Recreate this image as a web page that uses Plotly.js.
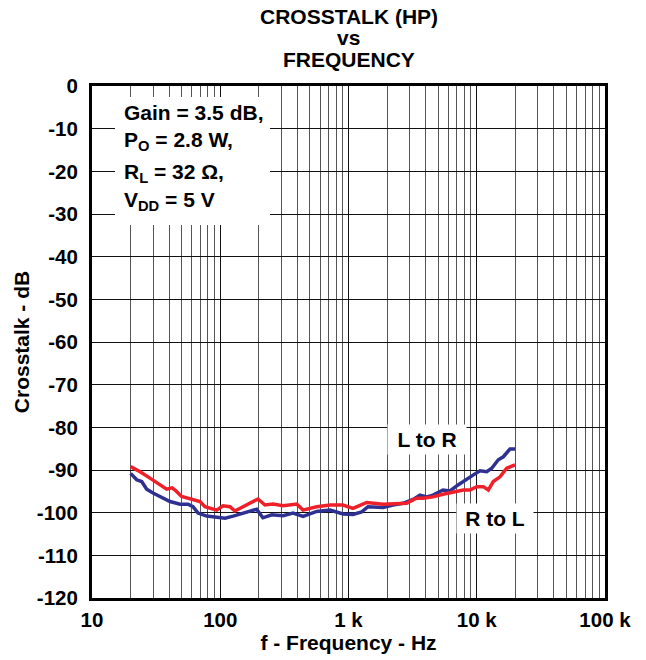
<!DOCTYPE html>
<html>
<head>
<meta charset="utf-8">
<script src="https://cdn.plot.ly/plotly-3.0.1.min.js"></script>
<style>html,body{margin:0;padding:0;background:#fff;}#chart{width:646px;height:660px;}</style>
</head>
<body>
<div id="chart"></div>
<script>
// Frequencies (Hz) and crosstalk (dB)
const freqRtoL = [20, 23.7, 28.3, 33.9, 38.2, 42.1, 44.4, 50, 59.9, 69.5, 76, 93.8, 105, 119, 130, 150, 171, 197, 223, 258, 309, 395, 442, 565, 718, 906, 1083, 1229, 1387, 1858, 2377, 2844, 3185, 3404, 3811, 4560, 5455, 6530, 7853, 8854, 9993, 11250, 12300, 13460, 15180, 17120, 19870];
const dbRtoL   = [-89.2, -90.4, -91.9, -93.5, -94.5, -94.2, -94.7, -96.2, -96.9, -97.4, -98.6, -99.4, -98.4, -98.6, -99.6, -98.6, -97.8, -96.8, -98.2, -98.0, -98.4, -98.0, -99.4, -98.6, -98.2, -98.2, -99.0, -98.2, -97.6, -98.0, -97.8, -97.8, -97.0, -96.6, -96.6, -96.3, -95.7, -95.3, -94.7, -94.7, -93.9, -93.9, -94.7, -92.7, -91.6, -89.6, -88.8];

const freqLtoR = [20, 22.3, 24.4, 26.7, 29.9, 35, 40.6, 48.6, 56.1, 61.3, 67.1, 78.4, 93.8, 109, 126, 150, 171, 192, 215, 252, 309, 369, 442, 565, 718, 906, 1083, 1268, 1419, 1858, 2223, 2660, 3185, 3610, 4074, 4560, 5455, 6182, 7145, 8351, 9354, 10600, 11960, 13090, 14730, 16110, 18160, 19870];
const dbLtoR   = [-90.8, -92.3, -92.7, -94.5, -95.4, -96.4, -97.4, -98.0, -98.0, -98.6, -100.1, -100.8, -101.1, -101.3, -100.8, -100.1, -99.6, -99.2, -101.2, -100.5, -100.7, -100.1, -100.9, -99.7, -99.4, -100.3, -100.4, -99.8, -98.6, -98.8, -98.2, -97.8, -96.9, -95.9, -96.3, -95.9, -94.7, -94.9, -93.5, -92.3, -91.2, -90.2, -90.4, -89.6, -87.6, -86.9, -85.1, -85.1];

const xTickVals = [10, 100, 1000, 10000, 100000];
const xTickText = ['10', '100', '1 k', '10 k', '100 k'];
const yTickVals = [0, -10, -20, -30, -40, -50, -60, -70, -80, -90, -100, -110, -120];
const yTickText = ['0', '-10', '-20', '-30', '-40', '-50', '-60', '-70', '-80', '-90', '-100', '-110', '-120'];

const titleLines = ['CROSSTALK (HP)', 'vs', 'FREQUENCY'];
const conditionLines = ['Gain = 3.5 dB,', 'P<sub>O</sub> = 2.8 W,', 'R<sub>L</sub> = 32 Ω,', 'V<sub>DD</sub> = 5 V'];

const FONT = 'Liberation Sans, Arial, sans-serif';

const traces = [
  {x: freqLtoR, y: dbLtoR, type: 'scatter', mode: 'lines', name: 'L to R',
   line: {color: '#2e3192', width: 3.5}},
  {x: freqRtoL, y: dbRtoL, type: 'scatter', mode: 'lines', name: 'R to L',
   line: {color: '#f0202a', width: 3.5}}
];

const bold = s => '<b>' + s + '</b>';

const titleY = [1.1348, 1.0938, 1.0527];
const condY = [0.9473, 0.8926, 0.8301, 0.7754];

const annotations = [];
titleLines.forEach((t, i) => annotations.push({
  xref: 'paper', yref: 'paper', x: 0.5, y: titleY[i], xanchor: 'center', yanchor: 'middle',
  text: bold(t), showarrow: false, font: {size: 21}
}));
conditionLines.forEach((t, i) => annotations.push({
  xref: 'paper', yref: 'paper', x: 0.058, y: condY[i], xanchor: 'left', yanchor: 'middle',
  text: bold(t), showarrow: false, font: {size: 21}
}));
annotations.push(
  {xref: 'paper', yref: 'paper', x: 0.653, y: 0.3086, xanchor: 'center', yanchor: 'middle',
   text: bold('L to R'), showarrow: false, bgcolor: '#fff', borderpad: 3, font: {size: 21}, width: 72},
  {xref: 'paper', yref: 'paper', x: 0.7856, y: 0.156, xanchor: 'center', yanchor: 'middle',
   text: bold('R to L'), showarrow: false, bgcolor: '#fff', borderpad: 3, font: {size: 21}, width: 70}
);

const layout = {
  width: 646, height: 660,
  margin: {l: 92, r: 41, t: 86, b: 62},
  paper_bgcolor: '#fff', plot_bgcolor: '#fff',
  showlegend: false,
  font: {family: FONT, size: 21, color: '#000'},
  xaxis: {
    type: 'log', range: [1, 5],
    tickvals: xTickVals, ticktext: xTickText.map(bold),
    ticks: '', ticklabelstandoff: 1,
    showgrid: true, gridcolor: '#111', gridwidth: 1,
    minor: {dtick: 'D1', showgrid: true, gridcolor: '#555', gridwidth: 1, ticks: ''},
    showline: true, mirror: true, linecolor: '#000', linewidth: 3,
    zeroline: false,
    tickfont: {family: FONT, size: 20.5},
    title: {text: bold('f - Frequency - Hz'), font: {family: FONT, size: 21}, standoff: 4}
  },
  yaxis: {
    range: [-120, 0],
    tickvals: yTickVals, ticktext: yTickText.map(bold),
    ticks: '', ticklabelstandoff: 7,
    showgrid: true, gridcolor: '#111', gridwidth: 1,
    showline: true, mirror: true, linecolor: '#000', linewidth: 3,
    zeroline: false,
    tickfont: {family: FONT, size: 20.5},
    title: {text: bold('Crosstalk - dB'), font: {family: FONT, size: 21}, standoff: 2}
  },
  shapes: [
    {type: 'rect', xref: 'paper', yref: 'paper', x0: 0.0448, x1: 0.347, y0: 0.7285, y1: 0.9785,
     fillcolor: '#fff', line: {width: 0}, layer: 'above'}
  ],
  annotations: annotations
};

Plotly.newPlot('chart', traces, layout, {displayModeBar: false, staticPlot: true});
</script>
</body>
</html>
